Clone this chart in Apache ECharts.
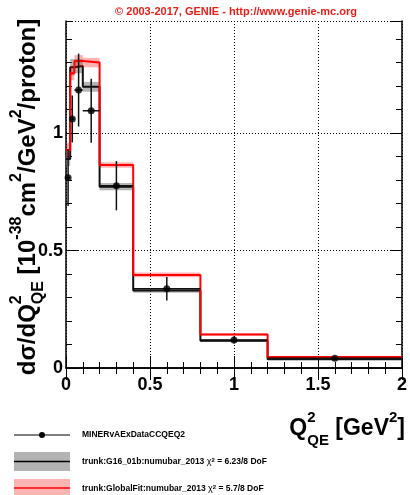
<!DOCTYPE html>
<html>
<head>
<meta charset="utf-8">
<script src="https://cdn.jsdelivr.net/npm/echarts@6/dist/echarts.min.js"></script>
<style>
  html, body { margin: 0; padding: 0; background: #fff; }
  #chart { width: 410px; height: 495px; }
</style>
</head>
<body>
<div id="chart"></div>
<script>
// bin edges in Q2_QE (GeV^2)
var binEdges = [0, 0.025, 0.05, 0.1, 0.2, 0.4, 0.8, 1.2, 2.0];
// MINERvA data
var dataVal = [0.81, 1.06, 1.183, 1.095, 0.776, 0.337, 0.119, 0.042];
var dataErr = [0.12, 0.10, 0.155, 0.136, 0.105, 0.05, 0.015, 0.006];
// trunk:G16_01b
var g16Val = [0.89, 1.28, 1.285, 1.197, 0.772, 0.33, 0.116, 0.037];
var g16Err = [0.03, 0.035, 0.03, 0.021, 0.015, 0.01, 0.005, 0.003];
// trunk:GlobalFit
var gfVal = [0.928, 1.255, 1.307, 1.30, 0.864, 0.396, 0.143, 0.047];
var gfErr = [0.03, 0.03, 0.025, 0.02, 0.012, 0.01, 0.005, 0.003];

var FONT = "'Liberation Sans', Arial, Helvetica, sans-serif";
var chart = echarts.init(document.getElementById('chart'));

function bandData(vals, errs) {
    var out = [];
    for (var i = 0; i < vals.length; i++) {
        out.push([binEdges[i], binEdges[i + 1], vals[i] - errs[i], vals[i] + errs[i]]);
    }
    return out;
}
function stepData(vals) {
    var out = [];
    for (var i = 0; i < vals.length; i++) out.push([binEdges[i], vals[i]]);
    out.push([binEdges[vals.length], vals[vals.length - 1]]);
    return out;
}
function bandRender(fill) {
    return function (params, api) {
        var p0 = api.coord([api.value(0), api.value(3)]);
        var p1 = api.coord([api.value(1), api.value(2)]);
        return {
            type: 'rect',
            shape: {x: p0[0], y: p0[1], width: p1[0] - p0[0], height: p1[1] - p0[1]},
            style: {fill: fill}
        };
    };
}
// rich text styles for titles with super/subscripts
function titleRich(big, small) {
    return {
        m: {font: 'bold ' + big + 'px ' + FONT, lineHeight: 38, verticalAlign: 'middle', align: 'left', fill: '#000'},
        s: {font: 'bold ' + small + 'px ' + FONT, lineHeight: 16, verticalAlign: 'top', align: 'left', fill: '#000'},
        s0: {font: 'bold ' + small + 'px ' + FONT, lineHeight: 16, verticalAlign: 'top', align: 'left', width: 0, fill: '#000'},
        b: {font: 'bold ' + small + 'px ' + FONT, lineHeight: 18, verticalAlign: 'bottom', align: 'left', fill: '#000'}
    };
}

var points = [];
var bars = [];
for (var i = 0; i < dataVal.length; i++) {
    var c = (binEdges[i] + binEdges[i + 1]) / 2;
    points.push([c, dataVal[i]]);
    bars.push([c, dataVal[i], binEdges[i], binEdges[i + 1], dataVal[i] - dataErr[i], dataVal[i] + dataErr[i]]);
}

var option = {
    animation: false,
    grid: {left: 66, top: 21, width: 339, height: 347},
    xAxis: [
        {
            type: 'value', min: 0, max: 2, interval: 0.5, position: 'bottom',
            axisLine: {show: true, lineStyle: {color: '#000', width: 1.5}},
            axisTick: {show: true, inside: true, length: 12, lineStyle: {color: '#000', width: 1}},
            minorTick: {show: true, splitNumber: 5, length: 6, lineStyle: {color: '#000', width: 1}},
            splitLine: {show: true, lineStyle: {color: '#000', type: [1, 2], width: 1}},
            axisLabel: {color: '#000', fontSize: 18, fontWeight: 'bold', fontFamily: FONT, margin: 8,
                formatter: function (v) { return String(v); }}
        },
        {
            type: 'value', min: 0, max: 2, interval: 0.5, position: 'top',
            axisLine: {show: true, lineStyle: {color: '#000', width: 1.5}},
            axisTick: {show: true, inside: true, length: 12, lineStyle: {color: '#000', width: 1}},
            minorTick: {show: true, splitNumber: 5, length: 6, lineStyle: {color: '#000', width: 1}},
            splitLine: {show: false}, axisLabel: {show: false}
        }
    ],
    yAxis: [
        {
            type: 'value', min: 0, max: 1.477, interval: 0.5, position: 'left',
            axisLine: {show: true, lineStyle: {color: '#000', width: 1.5}},
            axisTick: {show: true, inside: true, length: 12, lineStyle: {color: '#000', width: 1}},
            splitLine: {show: true, lineStyle: {color: '#000', type: [1, 2], width: 1}},
            axisLabel: {color: '#000', fontSize: 18, fontWeight: 'bold', fontFamily: FONT, margin: 3,
                showMaxLabel: false, formatter: function (v) { return String(v); }}
        },
        {
            type: 'value', min: 0, max: 1.477, interval: 0.1, position: 'left',
            axisLine: {show: false},
            axisTick: {show: true, inside: true, length: 6, lineStyle: {color: '#000', width: 1}},
            splitLine: {show: false}, axisLabel: {show: false}
        },
        {
            type: 'value', min: 0, max: 1.477, interval: 0.5, position: 'right',
            axisLine: {show: true, lineStyle: {color: '#000', width: 1.5}},
            axisTick: {show: true, inside: true, length: 12, lineStyle: {color: '#000', width: 1}},
            splitLine: {show: false}, axisLabel: {show: false}
        },
        {
            type: 'value', min: 0, max: 1.477, interval: 0.1, position: 'right',
            axisLine: {show: false},
            axisTick: {show: true, inside: true, length: 6, lineStyle: {color: '#000', width: 1}},
            splitLine: {show: false}, axisLabel: {show: false}
        }
    ],
    series: [
        {
            type: 'custom', name: 'g16band', renderItem: bandRender('rgba(120,120,120,0.55)'),
            data: bandData(g16Val, g16Err), encode: {x: [0, 1], y: [2, 3]}, z: 2
        },
        {
            type: 'line', name: 'g16', step: 'end', data: stepData(g16Val), showSymbol: false,
            lineStyle: {color: '#111', width: 2}, z: 3
        },
        {
            type: 'custom', name: 'gfband', renderItem: bandRender('rgba(255,0,0,0.3)'),
            data: bandData(gfVal, gfErr), encode: {x: [0, 1], y: [2, 3]}, z: 4
        },
        {
            type: 'line', name: 'gf', step: 'end', data: stepData(gfVal), showSymbol: false,
            lineStyle: {color: '#ff0000', width: 2}, z: 5
        },
        {
            type: 'custom', name: 'errbars', z: 6,
            data: bars, encode: {x: [0, 2, 3], y: [1, 4, 5]},
            renderItem: function (params, api) {
                var a = api.coord([api.value(2), api.value(1)]);
                var b = api.coord([api.value(3), api.value(1)]);
                var lo = api.coord([api.value(0), api.value(4)]);
                var hi = api.coord([api.value(0), api.value(5)]);
                var st = {stroke: '#111', lineWidth: 1.5};
                return {type: 'group', children: [
                    {type: 'line', shape: {x1: a[0], y1: a[1], x2: b[0], y2: b[1]}, style: st},
                    {type: 'line', shape: {x1: lo[0], y1: lo[1], x2: hi[0], y2: hi[1]}, style: st}
                ]};
            }
        },
        {
            type: 'scatter', name: 'data', data: points, symbol: 'circle', symbolSize: 7,
            itemStyle: {color: '#000'}, z: 7
        }
    ],
    graphic: [
        {type: 'text', x: 236, y: 12, style: {text: '\u00a9 2003-2017, GENIE - http://www.genie-mc.org',
            fill: '#e8201a', font: 'bold 11px ' + FONT, align: 'center', verticalAlign: 'middle'}},
        {type: 'text', x: 28, y: 197, rotation: Math.PI / 2,
            style: {
                text: '{m|d\u03c3/dQ}{s0|2}{b|QE}{m| [10}{s|-38}{m|cm}{s|2}{m|/GeV}{s|2}{m|/proton]}',
                align: 'center', verticalAlign: 'middle', fill: '#000',
                rich: titleRich(24, 16)
            }},
        {type: 'text', x: 405, y: 429,
            style: {
                text: '{m|Q}{s0|2}{b|QE}{m| [GeV}{s|2}{m|]}',
                align: 'right', verticalAlign: 'middle', fill: '#000',
                rich: titleRich(23, 15)
            }},
        // legend
        {type: 'line', shape: {x1: 14, y1: 435, x2: 70, y2: 435}, style: {stroke: '#000', lineWidth: 1}},
        {type: 'circle', shape: {cx: 42, cy: 435, r: 3}, style: {fill: '#000'}},
        {type: 'text', x: 82, y: 435, style: {text: 'MINERvAExDataCCQEQ2', font: 'bold 8.5px ' + FONT,
            fill: '#000', verticalAlign: 'middle'}},
        {type: 'rect', shape: {x: 14, y: 452, width: 56, height: 19}, style: {fill: '#b3b3b3'}},
        {type: 'line', shape: {x1: 14, y1: 461.5, x2: 70, y2: 461.5}, style: {stroke: '#000', lineWidth: 1.5}},
        {type: 'text', x: 82, y: 462, style: {text: 'trunk:G16_01b:numubar_2013 {g|\u03c7}{s|2} = 6.23/8 DoF',
            font: 'bold 8.5px ' + FONT, fill: '#000', verticalAlign: 'middle',
            rich: {g: {font: '9px ' + FONT, fill: '#000'}, s: {font: 'bold 6px ' + FONT, verticalAlign: 'top', lineHeight: 8, fill: '#000'}}}},
        {type: 'rect', shape: {x: 14, y: 479, width: 56, height: 16}, style: {fill: '#ffb3b3'}},
        {type: 'line', shape: {x1: 14, y1: 488, x2: 70, y2: 488}, style: {stroke: '#ff0000', lineWidth: 1.5}},
        {type: 'text', x: 82, y: 489, style: {text: 'trunk:GlobalFit:numubar_2013 {g|\u03c7}{s|2} = 5.7/8 DoF',
            font: 'bold 8.5px ' + FONT, fill: '#000', verticalAlign: 'middle',
            rich: {g: {font: '9px ' + FONT, fill: '#000'}, s: {font: 'bold 6px ' + FONT, verticalAlign: 'top', lineHeight: 8, fill: '#000'}}}}
    ]
};
chart.setOption(option);
window.onresize = chart.resize;
</script>
</body>
</html>
